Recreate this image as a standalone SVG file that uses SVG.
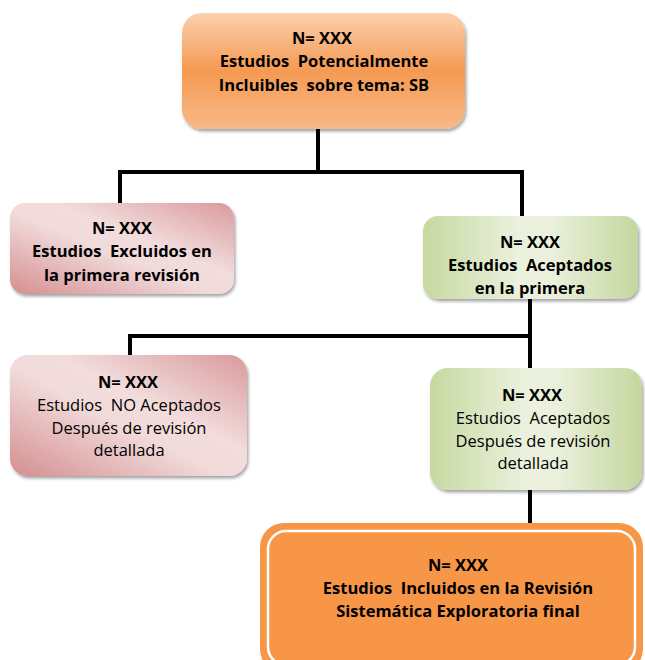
<svg xmlns="http://www.w3.org/2000/svg" width="645" height="660" viewBox="0 0 645 660">
<defs>
<linearGradient id="gOrange" x1="0" y1="0" x2="0" y2="1">
<stop offset="0" stop-color="#fbd0ae"/>
<stop offset="0.5" stop-color="#f59a52"/>
<stop offset="1" stop-color="#f8b988"/>
</linearGradient>
<linearGradient id="gPink" x1="0" y1="1" x2="1" y2="0">
<stop offset="0" stop-color="#d48e90"/>
<stop offset="0.45" stop-color="#f1dada"/>
<stop offset="0.6" stop-color="#f2dcdc"/>
<stop offset="1" stop-color="#d99a9c"/>
</linearGradient>
<linearGradient id="gGreen" x1="0" y1="0" x2="1" y2="0">
<stop offset="0" stop-color="#c6d9a0"/>
<stop offset="0.45" stop-color="#ebf1de"/>
<stop offset="0.6" stop-color="#eaf0dc"/>
<stop offset="1" stop-color="#c4d79e"/>
</linearGradient>
<filter id="sh" x="-10%" y="-10%" width="120%" height="130%">
<feDropShadow dx="1.5" dy="2.5" stdDeviation="1.5" flood-color="#000" flood-opacity="0.35"/>
</filter>
<style>
text{font-family:"Open Sans","Liberation Sans",sans-serif;font-size:16.5px;fill:#000;text-anchor:middle;white-space:pre}
.b{font-weight:bold}
.edge{stroke:#000;stroke-width:4;fill:none}
.box{stroke:none;filter:url(#sh)}
</style>
</defs>
<g id="connectors">
<path class="edge" d="M318,128 V172 M120,172 H522 M120,170 V204 M522,170 V217"/>
<path class="edge" d="M530,298 V336 M130,336 H532 M130,334 V356 M530,334 V369"/>
<path class="edge" d="M530,490 V524"/>
</g>
<g id="n1">
<rect class="box" x="182" y="13" width="283" height="116" rx="20" fill="url(#gOrange)"/>
<text class="b" x="322" y="44">N= XXX</text>
<text class="b" x="324" y="67" xml:space="preserve">Estudios  Potencialmente</text>
<text class="b" x="324" y="91" xml:space="preserve">Incluibles  sobre tema: SB</text>
</g>
<g id="n2">
<rect class="box" x="10" y="203" width="224" height="91" rx="15" fill="url(#gPink)"/>
<text class="b" x="122" y="234">N= XXX</text>
<text class="b" x="122" y="257" xml:space="preserve">Estudios  Excluidos en</text>
<text class="b" x="122" y="281">la primera revisión</text>
</g>
<g id="n3">
<rect class="box" x="423" y="216" width="215" height="83" rx="15" fill="url(#gGreen)"/>
<text class="b" x="530" y="248">N= XXX</text>
<text class="b" x="530" y="271" xml:space="preserve">Estudios  Aceptados</text>
<text class="b" x="530" y="294">en la primera</text>
</g>
<g id="n4">
<rect class="box" x="10" y="355" width="237" height="121" rx="18" fill="url(#gPink)"/>
<text class="b" x="128" y="388">N= XXX</text>
<text x="129" y="411" xml:space="preserve">Estudios  NO Aceptados</text>
<text x="129" y="434">Después de revisión</text>
<text x="129" y="456">detallada</text>
</g>
<g id="n5">
<rect class="box" x="430" y="368" width="212" height="122" rx="18" fill="url(#gGreen)"/>
<text class="b" x="532" y="401">N= XXX</text>
<text x="533" y="424" xml:space="preserve">Estudios  Aceptados</text>
<text x="533" y="447">Después de revisión</text>
<text x="533" y="469">detallada</text>
</g>
<g id="n6">
<rect x="260" y="523" width="383" height="150" rx="24" fill="#f79646"/>
<rect x="268" y="531" width="367" height="134" rx="18" fill="#f79646" stroke="#fff" stroke-width="2.5"/>
<text class="b" x="458" y="571">N= XXX</text>
<text class="b" x="458" y="594" xml:space="preserve">Estudios  Incluidos en la Revisión</text>
<text class="b" x="458" y="617">Sistemática Exploratoria final</text>
</g>
</svg>
